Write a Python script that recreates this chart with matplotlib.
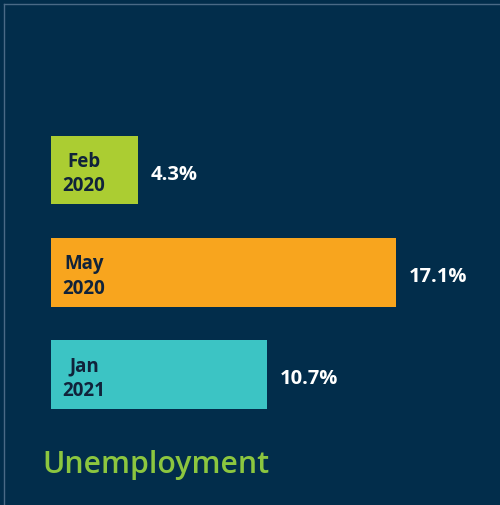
import matplotlib
matplotlib.use("Agg")
import matplotlib.pyplot as plt
from matplotlib.lines import Line2D

# Unemployment rate at three points in time
periods = ["Feb\n2020", "May\n2020", "Jan\n2021"]
rates = [4.3, 17.1, 10.7]
value_labels = ["4.3%", "17.1%", "10.7%"]
bar_colors = ["#abcd32", "#f8a51e", "#3cc4c4"]

BG = "#022d4b"
W, H = 500, 506
fig = plt.figure(figsize=(W / 100, H / 100), dpi=100, facecolor=BG)

# axes in pixel terms: bars start at x=51, rows centred at ~171 / 273 / 375
left_px, right_px = 51, 500
top_px, bottom_px = 120, 426.75
ax = fig.add_axes([left_px / W, 1 - bottom_px / H,
                   (right_px - left_px) / W, (bottom_px - top_px) / H])
ax.set_facecolor(BG)
px_per_unit = 345 / 17.1
ax.set_xlim(0, (right_px - left_px) / px_per_unit)
ax.set_ylim(2.5, -0.5)
ax.axis("off")

ypos = list(range(len(rates)))
ax.barh(ypos, rates, height=0.67, color=bar_colors, edgecolor="none")

label_font = dict(family=["Open Sans", "DejaVu Sans"], fontweight="bold")
for y, r, lab, val in zip(ypos, rates, periods, value_labels):
    ax.annotate(lab, xy=(0, y), xytext=(23.8, -2.2), textcoords="offset points",
                ha="center", va="center", fontsize=13.5, color="#10233a",
                linespacing=1.3, **label_font)
    ax.annotate(val, xy=(r, y), xytext=(9.5, -2.5), textcoords="offset points",
                ha="left", va="center", fontsize=14.5, color="white",
                **label_font)

fig.text(42 / W, 1 - 473 / H, "Unemployment", ha="left", va="baseline",
         fontsize=21.8, color="#8cc63f", fontweight="semibold",
         family=["Open Sans", "DejaVu Sans"])

# thin frame along the top and left edges
frame_color = "#4a6a86"
fig.add_artist(Line2D([4 / W, 1], [1 - 5 / H, 1 - 5 / H], color=frame_color,
                      lw=1.0, transform=fig.transFigure))
fig.add_artist(Line2D([4 / W, 4 / W], [0, 1 - 5 / H], color=frame_color,
                      lw=1.0, transform=fig.transFigure))

fig.savefig("out.png", dpi=100, facecolor=BG)
